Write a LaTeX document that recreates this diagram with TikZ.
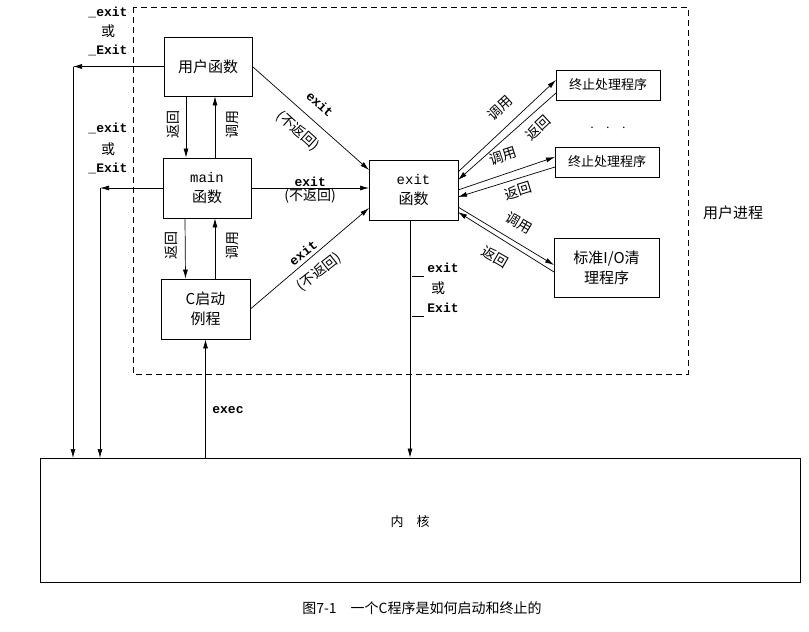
\documentclass[tikz,border=0pt]{standalone}
\usepackage{fontspec}
\setmainfont{Liberation Serif}
\setmonofont{Liberation Mono}
\newfontfamily\cjk{Noto Sans CJK SC}
\usetikzlibrary{arrows.meta}
\begin{document}
\begin{tikzpicture}[x=1pt,y=-1pt,
  bx/.style={draw,thick,inner sep=0pt,font=\cjk\fontsize{15}{20}\selectfont,align=center,line width=0.8pt},
  ar/.style={-{Latex[length=9pt,width=5pt]},line width=0.7pt},
  lb/.style={font=\cjk\fontsize{14}{16}\selectfont,inner sep=1pt},
  tt/.style={font=\ttfamily\bfseries\fontsize{13}{14}\selectfont,inner sep=1pt}]
\useasboundingbox (0,0) rectangle (809,632);
\draw[dashed,line width=0.7pt,dash pattern=on 6pt off 4pt] (133,7) rectangle (688,374);
\node[bx,minimum width=88pt,minimum height=59pt] (u) at (208,66.5) {用户函数};
\node[bx,minimum width=88pt,minimum height=60pt] (m) at (207,188) {{\ttfamily\fontsize{14}{15}\selectfont main}\\函数};
\node[bx,minimum width=89pt,minimum height=60pt] (c) at (205.5,309) {C启动\\例程};
\node[bx,minimum width=89pt,minimum height=60pt] (e) at (413.5,190) {{\ttfamily\fontsize{14}{15}\selectfont exit}\\函数};
\node[bx,minimum width=104pt,minimum height=30pt,font=\cjk\fontsize{13}{15}\selectfont] (t1) at (608,85) {终止处理程序};
\node[bx,minimum width=104pt,minimum height=30pt,font=\cjk\fontsize{13}{15}\selectfont] (t2) at (607,162) {终止处理程序};
\node[bx,minimum width=105pt,minimum height=59pt] (io) at (606.5,267.5) {标准I/O清\\理程序};
\node[draw,line width=0.8pt,minimum width=760pt,minimum height=124pt,inner sep=0pt] (k) at (420,520) {};
\node[font=\cjk\fontsize{13}{15}\selectfont] at (410,522) {内\hspace{1em}核};
\node[font=\cjk\fontsize{14}{16}\selectfont] (cap) at (422,608) {图7-1\hspace{1em}一个C程序是如何启动和终止的};
\node[lb,font=\cjk\fontsize{15}{17}\selectfont] (up) at (733,213) {用户进程};
% left exits
\coordinate (l1) at (73,458); \coordinate (l2) at (100,458);
\draw[ar] (u.west) -- (73,66.5);
\draw[ar] (73,66.5) -- (l1);
\draw[ar] (m.west) -- (100,188);
\draw[ar] (100,188) -- (l2);
\node[tt] at (108,12) {\_exit}; \node[lb] at (108,31) {或}; \node[tt] at (108,50) {\_Exit};
\node[tt] at (108,128) {\_exit}; \node[lb] at (108,149) {或}; \node[tt] at (108,168) {\_Exit};
% vertical
\draw[ar] ([xshift=-22pt]u.south) -- ([xshift=-21pt]m.north);
\draw[ar] ([xshift=8pt]m.north) -- ([xshift=7pt]u.south);
\draw[ar] ([xshift=-22pt]m.south) -- ([xshift=-20pt]c.north);
\draw[ar] ([xshift=8pt]m.south |- c.north) -- ([xshift=8pt]m.south);
\node[lb,rotate=90] at (173,124) {返回}; \node[lb,rotate=90] at (232,124) {调用};
\node[lb,rotate=90] at (171,245) {返回}; \node[lb,rotate=90] at (232,245) {调用};
% to exit
\draw[ar] (u.east) -- (369,170);
\node[tt,rotate=-42] at (320,104) {exit};
\node[lb,rotate=-42] at (298,131) {(不返回)};
\draw[ar] (m.east) -- (369,188) node[midway,above,tt] {exit} node[midway,below,lb] {(不返回)};
\draw[ar] (c.east) -- (369,208);
\node[tt,rotate=38] at (303,253) {exit};
\node[lb,rotate=38] at (319,272) {(不返回)};
% right
\draw[ar] (458,172) -- (556,80);
\draw[ar] (556,93) -- (458,180);
\draw[ar] (458,190) -- (555,157);
\draw[ar] (555,167) -- (458,197);
\draw[ar] (458,207) -- (554,265);
\draw[ar] (554,272) -- (458,212);
\node[lb,rotate=43] at (500,108) {调用};
\node[lb,rotate=43] at (538,128) {返回};
\node[lb,rotate=18] at (503,156) {调用};
\node[lb,rotate=17] at (518,191) {返回};
\node[lb,rotate=-30] at (519,223) {调用};
\node[lb,rotate=-30] at (495,257) {返回};
\node[font=\fontsize{14}{14}\selectfont] (dots) at (608,128) {$\cdot$\hspace{12pt}$\cdot$\hspace{12pt}$\cdot$};
% down
\draw[ar] (410,220) -- (k.north -| 410,0);
\node[tt] at (443,268) {exit}; \node[lb] at (438,288) {或}; \node[tt] at (443,308) {Exit};
\draw[line width=0.6pt] (412,276) -- (424,276) (412,316) -- (424,316);
% exec
\draw[ar] (k.north -| c.south) -- (c.south);
\node[tt] at (228,410) {exec};
\end{tikzpicture}
\end{document}
